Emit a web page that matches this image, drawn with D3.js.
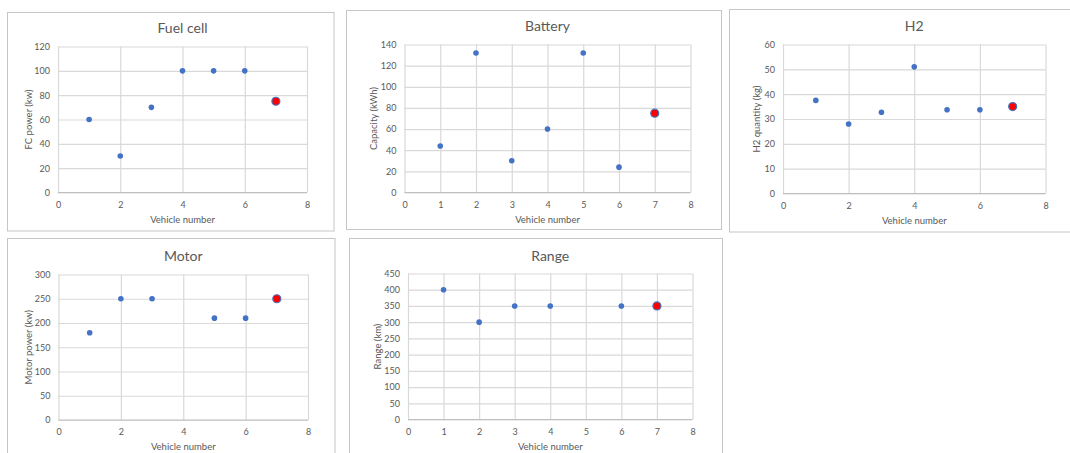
<!DOCTYPE html>
<html>
<head>
<meta charset="utf-8">
<script src="https://cdn.jsdelivr.net/npm/d3@7/dist/d3.min.js"></script>
<style>
  html, body { margin: 0; padding: 0; background: #fff; }
  svg { display: block; }
  text { font-family: Lato, "Liberation Sans", sans-serif; }
</style>
</head>
<body>
<svg id="chart" width="1070" height="453"></svg>
<script>
// ---- Data ----
const fuelCellVehicles = [1, 2, 3, 4, 5, 6, 7];
const fuelCellPower    = [60, 30, 70, 100, 100, 100, 75];

const batteryVehicles  = [1, 2, 3, 4, 5, 6, 7];
const batteryCapacity  = [44, 132, 30, 60, 132, 24, 75];

const h2Vehicles       = [1, 2, 3, 4, 5, 6, 7];
const h2Quantity       = [37.5, 28, 32.7, 51, 33.7, 33.7, 35];

const motorVehicles    = [1, 2, 3, 5, 6, 7];
const motorPower       = [180, 250, 250, 210, 210, 250];

const rangeVehicles    = [1, 2, 3, 4, 6, 7];
const rangeKm          = [400, 300, 350, 350, 350, 350];

const highlightVehicle = 7;

const fuelCellYTicks = [0, 20, 40, 60, 80, 100, 120];
const batteryYTicks  = [0, 20, 40, 60, 80, 100, 120, 140];
const h2YTicks       = [0, 10, 20, 30, 40, 50, 60];
const motorYTicks    = [0, 50, 100, 150, 200, 250, 300];
const rangeYTicks    = [0, 50, 100, 150, 200, 250, 300, 350, 400, 450];
const xTicksStep2    = [0, 2, 4, 6, 8];
const xTicksStep1    = [0, 1, 2, 3, 4, 5, 6, 7, 8];

// ---- Layout ----
const panels = [
  { title: "Fuel cell", yLabel: "FC power (kw)", xs: fuelCellVehicles, ys: fuelCellPower,
    yTicks: fuelCellYTicks, xTicks: xTicksStep2,
    frame: [7.5, 12.5, 334, 231], plot: [58, 46.5, 307, 192.5], titleY: 33, yLabelX: 29 },
  { title: "Battery", yLabel: "Capacity (kWh)", xs: batteryVehicles, ys: batteryCapacity,
    yTicks: batteryYTicks, xTicks: xTicksStep1,
    frame: [346.5, 10.5, 721.5, 229.5], plot: [404.5, 44.5, 690.5, 192.5], titleY: 31, yLabelX: 374 },
  { title: "H2", yLabel: "H2 quantity (kg)", xs: h2Vehicles, ys: h2Quantity,
    yTicks: h2YTicks, xTicks: xTicksStep2,
    frame: [729.5, 9.5, 1072, 232], plot: [783, 44.5, 1045.5, 193.5], titleY: 31, yLabelX: 757 },
  { title: "Motor", yLabel: "Motor power (kw)", xs: motorVehicles, ys: motorPower,
    yTicks: motorYTicks, xTicks: xTicksStep2,
    frame: [7.5, 238.5, 335, 470], plot: [58.5, 274.5, 308, 420], titleY: 261, yLabelX: 29 },
  { title: "Range", yLabel: "Range (km)", xs: rangeVehicles, ys: rangeKm,
    yTicks: rangeYTicks, xTicks: xTicksStep1,
    frame: [349.5, 238.5, 722.5, 470], plot: [408, 273.5, 692.5, 419.5], titleY: 261, yLabelX: 378 }
];

const svg = d3.select("#chart");
const textColor = "#595959";
const gridColor = "#d9d9d9";
const blue = "#4472C4";

panels.forEach(p => {
  const g = svg.append("g");
  const [fx0, fy0, fx1, fy1] = p.frame;
  g.append("rect")
    .attr("x", fx0).attr("y", fy0)
    .attr("width", fx1 - fx0).attr("height", fy1 - fy0)
    .attr("fill", "#fff").attr("stroke", "#c6c6c6").attr("stroke-width", 1);

  const [px0, py0, px1, py1] = p.plot;
  const x = d3.scaleLinear().domain([d3.min(p.xTicks), d3.max(p.xTicks)]).range([px0, px1]);
  const y = d3.scaleLinear().domain([d3.min(p.yTicks), d3.max(p.yTicks)]).range([py1, py0]);

  // horizontal gridlines
  const yAxis = d3.axisLeft(y).tickValues(p.yTicks).tickSize(-(px1 - px0)).tickPadding(8);
  const yg = g.append("g").attr("transform", `translate(${px0},0)`).call(yAxis);
  yg.select(".domain").remove();
  yg.selectAll(".tick line").attr("stroke", gridColor).attr("stroke-width", 1.2);
  yg.selectAll(".tick text").attr("fill", textColor).attr("font-size", 9).attr("font-family", "Lato, sans-serif");

  // vertical gridlines
  const xAxis = d3.axisBottom(x).tickValues(p.xTicks).tickSize(-(py1 - py0)).tickPadding(9);
  const xg = g.append("g").attr("transform", `translate(0,${py1})`).call(xAxis);
  xg.select(".domain").remove();
  xg.selectAll(".tick line").attr("stroke", gridColor).attr("stroke-width", 1.2);
  xg.selectAll(".tick text").attr("fill", textColor).attr("font-size", 9).attr("font-family", "Lato, sans-serif");

  // baseline axis
  g.append("line").attr("x1", px0).attr("x2", px1).attr("y1", py1).attr("y2", py1)
    .attr("stroke", "#bfbfbf").attr("stroke-width", 1);

  // title
  g.append("text")
    .attr("x", (px0 + px1) / 2)
    .attr("y", p.titleY)
    .attr("text-anchor", "middle")
    .attr("fill", textColor).attr("font-size", 14)
    .text(p.title);

  // x axis title
  g.append("text")
    .attr("x", (px0 + px1) / 2)
    .attr("y", py1 + 30)
    .attr("text-anchor", "middle")
    .attr("fill", textColor).attr("font-size", 9.5)
    .text("Vehicle number");

  // y axis title
  g.append("text")
    .attr("transform", `translate(${p.yLabelX},${(py0 + py1) / 2}) rotate(-90)`)
    .attr("text-anchor", "middle")
    .attr("dy", "0.35em")
    .attr("fill", textColor).attr("font-size", 9.5)
    .text(p.yLabel);

  // points
  const pts = p.xs.map((v, i) => ({ v, val: p.ys[i] }));
  g.selectAll("circle.pt").data(pts.filter(d => d.v !== highlightVehicle)).join("circle")
    .attr("class", "pt")
    .attr("cx", d => x(d.v)).attr("cy", d => y(d.val))
    .attr("r", 2.8).attr("fill", blue);
  g.selectAll("circle.hl").data(pts.filter(d => d.v === highlightVehicle)).join("circle")
    .attr("class", "hl")
    .attr("cx", d => x(d.v)).attr("cy", d => y(d.val))
    .attr("r", 4).attr("fill", "#ff0000").attr("stroke", blue).attr("stroke-width", 1.2);
});
</script>
</body>
</html>
